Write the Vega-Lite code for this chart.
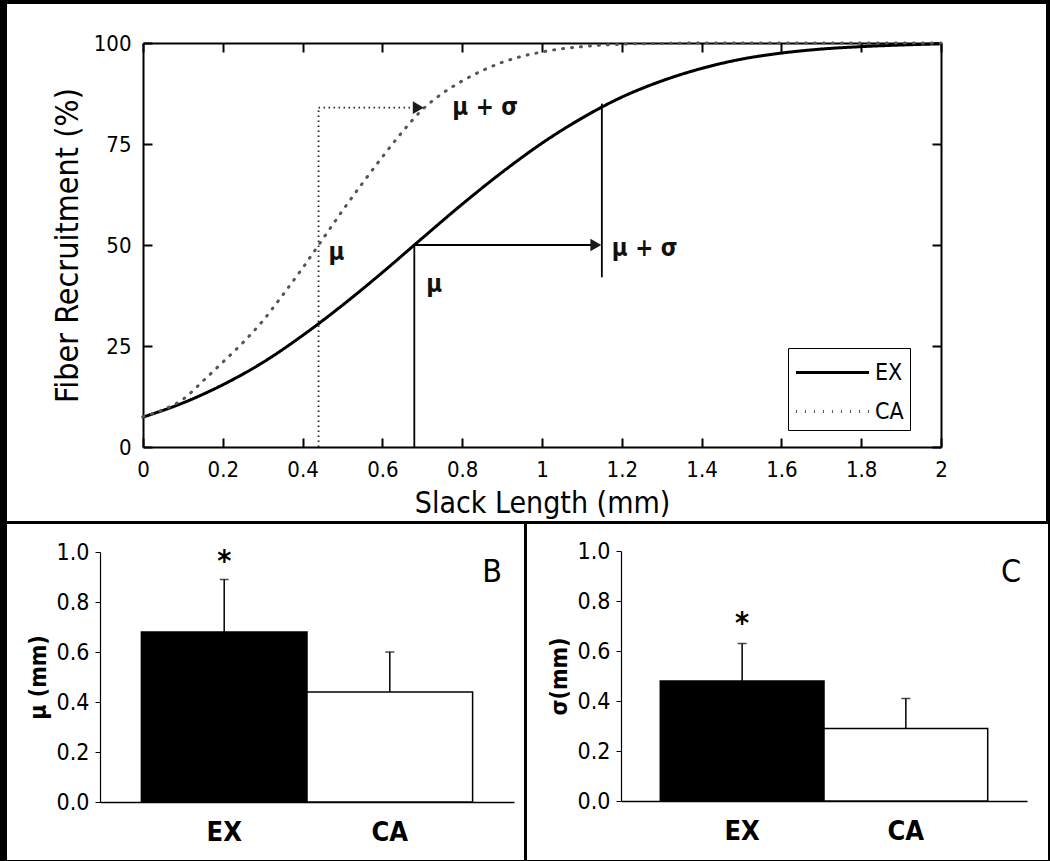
{
  "$schema": "https://vega.github.io/schema/vega-lite/v6.json",
  "background": "black",
  "padding": {"left": 5, "top": 2, "right": 5, "bottom": 4},
  "spacing": 0,
  "config": {
    "font": "DejaVu Sans Condensed, DejaVu Sans, sans-serif",
    "view": {"fill": "white", "stroke": "black", "strokeWidth": 1},
    "axis": {"grid": false, "domainColor": "black", "tickColor": "black", "labelColor": "black", "titleColor": "black"}
  },
  "datasets": {
    "curves": [
      {"group": "EX", "slack": 0.0, "recruit": 7.4},
      {"group": "EX", "slack": 0.1, "recruit": 10.9},
      {"group": "EX", "slack": 0.2, "recruit": 15.4},
      {"group": "EX", "slack": 0.3, "recruit": 20.9},
      {"group": "EX", "slack": 0.4, "recruit": 27.6},
      {"group": "EX", "slack": 0.5, "recruit": 35.1},
      {"group": "EX", "slack": 0.6, "recruit": 43.2},
      {"group": "EX", "slack": 0.7, "recruit": 51.7},
      {"group": "EX", "slack": 0.8, "recruit": 60.1},
      {"group": "EX", "slack": 0.9, "recruit": 68.0},
      {"group": "EX", "slack": 1.0, "recruit": 75.2},
      {"group": "EX", "slack": 1.1, "recruit": 81.4},
      {"group": "EX", "slack": 1.2, "recruit": 86.6},
      {"group": "EX", "slack": 1.3, "recruit": 90.6},
      {"group": "EX", "slack": 1.4, "recruit": 93.7},
      {"group": "EX", "slack": 1.5, "recruit": 96.0},
      {"group": "EX", "slack": 1.6, "recruit": 97.5},
      {"group": "EX", "slack": 1.7, "recruit": 98.5},
      {"group": "EX", "slack": 1.8, "recruit": 99.1},
      {"group": "EX", "slack": 1.9, "recruit": 99.5},
      {"group": "EX", "slack": 2.0, "recruit": 99.8},
      {"group": "CA", "slack": 0.0, "recruit": 7.5},
      {"group": "CA", "slack": 0.05, "recruit": 9.2},
      {"group": "CA", "slack": 0.1, "recruit": 11.8},
      {"group": "CA", "slack": 0.15, "recruit": 16.3},
      {"group": "CA", "slack": 0.2, "recruit": 21.0},
      {"group": "CA", "slack": 0.25, "recruit": 25.8},
      {"group": "CA", "slack": 0.3, "recruit": 31.2},
      {"group": "CA", "slack": 0.35, "recruit": 37.6},
      {"group": "CA", "slack": 0.4, "recruit": 44.3},
      {"group": "CA", "slack": 0.45, "recruit": 51.4},
      {"group": "CA", "slack": 0.5, "recruit": 58.5},
      {"group": "CA", "slack": 0.55, "recruit": 65.3},
      {"group": "CA", "slack": 0.6, "recruit": 71.8},
      {"group": "CA", "slack": 0.65, "recruit": 78.0},
      {"group": "CA", "slack": 0.7, "recruit": 83.5},
      {"group": "CA", "slack": 0.75, "recruit": 87.5},
      {"group": "CA", "slack": 0.8, "recruit": 90.6},
      {"group": "CA", "slack": 0.9, "recruit": 95.2},
      {"group": "CA", "slack": 1.0, "recruit": 97.8},
      {"group": "CA", "slack": 1.1, "recruit": 99.1},
      {"group": "CA", "slack": 1.2, "recruit": 99.7},
      {"group": "CA", "slack": 1.3, "recruit": 99.9},
      {"group": "CA", "slack": 1.4, "recruit": 100},
      {"group": "CA", "slack": 1.6, "recruit": 100},
      {"group": "CA", "slack": 1.8, "recruit": 100},
      {"group": "CA", "slack": 2.0, "recruit": 100}
    ],
    "guides": [
      {"kind": "CA", "x": 0.44, "y": 0, "x2": 0.44, "y2": 84},
      {"kind": "CA", "x": 0.44, "y": 84, "x2": 0.69, "y2": 84},
      {"kind": "EX", "x": 0.68, "y": 0, "x2": 0.68, "y2": 50},
      {"kind": "EX", "x": 0.68, "y": 50, "x2": 1.13, "y2": 50},
      {"kind": "EX", "x": 1.15, "y": 42, "x2": 1.15, "y2": 85}
    ],
    "arrows": [
      {"kind": "EX", "x": 1.15, "y": 50},
      {"kind": "CA", "x": 0.705, "y": 84}
    ],
    "labels": [
      {"label": "μ", "x": 0.465, "y": 48},
      {"label": "μ + σ", "x": 0.775, "y": 84},
      {"label": "μ", "x": 0.71, "y": 40},
      {"label": "μ + σ", "x": 1.175, "y": 49}
    ],
    "mu": [
      {"group": "EX", "mean": 0.68, "upper": 0.89, "sig": "*"},
      {"group": "CA", "mean": 0.44, "upper": 0.60, "sig": ""}
    ],
    "sigma": [
      {"group": "EX", "mean": 0.48, "upper": 0.63, "sig": "*"},
      {"group": "CA", "mean": 0.29, "upper": 0.41, "sig": ""}
    ]
  },
  "vconcat": [
    {
      "width": 1040,
      "height": 518,
      "resolve": {"axis": {"x": "independent", "y": "independent"}},
      "layer": [
        {
          "data": {"name": "curves"},
          "mark": {"type": "line", "interpolate": "monotone", "strokeWidth": 3, "strokeCap": "round"},
          "encoding": {
            "x": {"field": "slack", "type": "quantitative",
              "scale": {"domain": [0, 2], "range": [137, 935], "nice": false, "zero": false},
              "axis": {"orient": "bottom", "offset": -74, "values": [0, 0.2, 0.4, 0.6, 0.8, 1, 1.2, 1.4, 1.6, 1.8, 2], "format": "~g",
                "tickSize": -9, "tickWidth": 2, "domainWidth": 2, "labelPadding": 21, "labelFontSize": 22, "labelFlush": false,
                "title": "Slack Length (mm)", "titleFontSize": 30, "titleFontWeight": "normal", "titlePadding": 8}},
            "y": {"field": "recruit", "type": "quantitative",
              "scale": {"domain": [0, 100], "range": [444, 40], "nice": false, "zero": false},
              "axis": {"orient": "left", "offset": -137, "values": [0, 25, 50, 75, 100],
                "tickSize": -9, "tickWidth": 2, "domainWidth": 2, "labelPadding": 21, "labelFontSize": 22,
                "title": "Fiber Recruitment (%)", "titleFontSize": 32, "titleFontWeight": "normal", "titlePadding": 9}},
            "color": {"field": "group", "type": "nominal",
              "scale": {"domain": ["EX", "CA"], "range": ["black", "#555555"]},
              "legend": {"title": null, "orient": "none", "legendX": 782, "legendY": 345, "strokeColor": "black", "fillColor": "white", "padding": 6,
                "symbolType": "M-2.15,0H2.15", "symbolSize": 1156, "symbolStrokeWidth": 3, "symbolOffset": 20, "labelOffset": 24, "rowPadding": 8,
                "labelFontSize": 23, "labelLimit": 300, "labelFont": "Liberation Sans Narrow, DejaVu Sans Condensed, sans-serif"}},
            "strokeDash": {"field": "group", "type": "nominal",
              "scale": {"domain": ["EX", "CA"], "range": [[1, 0], [1, 8]]},
              "legend": {"title": null, "orient": "none", "legendX": 782, "legendY": 345, "strokeColor": "black", "fillColor": "white", "padding": 6,
                "symbolType": "M-2.15,0H2.15", "symbolSize": 1156, "symbolStrokeWidth": 3, "symbolOffset": 20, "labelOffset": 24, "rowPadding": 8,
                "labelFontSize": 23, "labelLimit": 300, "labelFont": "Liberation Sans Narrow, DejaVu Sans Condensed, sans-serif"}}
          }
        },
        {
          "data": {"name": "guides"},
          "transform": [{"filter": "datum.kind == 'CA'"}],
          "mark": {"type": "rule", "strokeDash": [1.5, 3.5], "strokeWidth": 1.8, "color": "#222222"},
          "encoding": {
            "x": {"field": "x", "type": "quantitative",
              "axis": {"orient": "top", "offset": -40, "values": [0, 0.2, 0.4, 0.6, 0.8, 1, 1.2, 1.4, 1.6, 1.8, 2], "labels": false,
                "tickSize": -9, "tickWidth": 2, "domainWidth": 2, "title": null}},
            "x2": {"field": "x2"},
            "y": {"field": "y", "type": "quantitative",
              "axis": {"orient": "right", "offset": -105, "values": [0, 25, 50, 75, 100], "labels": false,
                "tickSize": -9, "tickWidth": 2, "domainWidth": 2, "title": null}},
            "y2": {"field": "y2"}
          }
        },
        {
          "data": {"name": "guides"},
          "transform": [{"filter": "datum.kind == 'EX'"}],
          "mark": {"type": "rule", "strokeWidth": 1.8, "color": "black"},
          "encoding": {
            "x": {"field": "x", "type": "quantitative", "axis": null},
            "x2": {"field": "x2"},
            "y": {"field": "y", "type": "quantitative", "axis": null},
            "y2": {"field": "y2"}
          }
        },
        {
          "data": {"name": "arrows"},
          "mark": {"type": "point", "shape": "triangle-right", "filled": true, "size": 160, "opacity": 1, "xOffset": -6, "color": "#1a1a1a"},
          "encoding": {
            "x": {"field": "x", "type": "quantitative", "axis": null},
            "y": {"field": "y", "type": "quantitative", "axis": null}
          }
        },
        {
          "data": {"name": "labels"},
          "mark": {"type": "text", "align": "left", "baseline": "middle", "fontSize": 24, "fontWeight": "bold", "color": "#111111"},
          "encoding": {
            "x": {"field": "x", "type": "quantitative", "axis": null},
            "y": {"field": "y", "type": "quantitative", "axis": null},
            "text": {"field": "label"}
          }
        }
      ]
    },
    {
      "spacing": 0,
      "resolve": {"scale": {"x": "independent", "y": "independent"}},
      "hconcat": [
        {
          "width": 518,
          "height": 337,
          "data": {"name": "mu"},
          "title": {"text": "B", "anchor": "end", "orient": "top", "offset": -66, "dx": -22, "fontSize": 32, "fontWeight": "normal", "color": "black", "baseline": "top"},
          "layer": [
            {
              "mark": {"type": "bar", "stroke": "black", "strokeWidth": 1.5},
              "encoding": {
                "x": {"field": "group", "type": "nominal", "sort": ["EX", "CA"],
                  "scale": {"range": [94, 508], "paddingInner": 0, "paddingOuter": 0.25},
                  "axis": {"orient": "bottom", "offset": -58, "ticks": false, "labelPadding": 17, "labelFontSize": 27, "labelFontWeight": "bold", "labelAngle": 0, "title": null, "domainWidth": 1.5}},
                "y": {"field": "mean", "type": "quantitative",
                  "scale": {"domain": [0, 1], "range": [279, 29], "nice": false},
                  "axis": {"orient": "left", "offset": -94, "values": [0, 0.2, 0.4, 0.6, 0.8, 1], "format": ".1f", "tickSize": 5, "labelPadding": 6, "labelFontSize": 23, "domainWidth": 1.2,
                    "title": "μ (mm)", "titleFontSize": 23, "titleFontWeight": "bold", "titlePadding": 6}},
                "fill": {"field": "group", "type": "nominal", "scale": {"domain": ["EX", "CA"], "range": ["black", "white"]}, "legend": null}
              }
            },
            {
              "mark": {"type": "rule", "strokeWidth": 1.5, "color": "black"},
              "encoding": {
                "x": {"field": "group", "type": "nominal", "sort": ["EX", "CA"]},
                "y": {"field": "mean", "type": "quantitative"},
                "y2": {"field": "upper"}
              }
            },
            {
              "mark": {"type": "tick", "thickness": 1.5, "size": 9, "color": "black", "orient": "horizontal"},
              "encoding": {
                "x": {"field": "group", "type": "nominal", "sort": ["EX", "CA"]},
                "y": {"field": "upper", "type": "quantitative"}
              }
            },
            {
              "mark": {"type": "text", "fontSize": 30, "fontWeight": "bold", "baseline": "alphabetic", "dy": -9, "color": "black"},
              "encoding": {
                "x": {"field": "group", "type": "nominal", "sort": ["EX", "CA"]},
                "y": {"field": "upper", "type": "quantitative"},
                "text": {"field": "sig"}
              }
            }
          ]
        },
        {
          "width": 522,
          "height": 337,
          "data": {"name": "sigma"},
          "title": {"text": "C", "anchor": "end", "orient": "top", "offset": -66, "dx": -27, "fontSize": 32, "fontWeight": "normal", "color": "black", "baseline": "top"},
          "layer": [
            {
              "mark": {"type": "bar", "stroke": "black", "strokeWidth": 1.5},
              "encoding": {
                "x": {"field": "group", "type": "nominal", "sort": ["EX", "CA"],
                  "scale": {"range": [95, 501], "paddingInner": 0, "paddingOuter": 0.24},
                  "axis": {"orient": "bottom", "offset": -59, "ticks": false, "labelPadding": 17, "labelFontSize": 27, "labelFontWeight": "bold", "labelAngle": 0, "title": null, "domainWidth": 1.5}},
                "y": {"field": "mean", "type": "quantitative",
                  "scale": {"domain": [0, 1], "range": [278, 28], "nice": false},
                  "axis": {"orient": "left", "offset": -95, "values": [0, 0.2, 0.4, 0.6, 0.8, 1], "format": ".1f", "tickSize": 5, "labelPadding": 6, "labelFontSize": 23, "domainWidth": 1.2,
                    "title": "σ(mm)", "titleFontSize": 23, "titleFontWeight": "bold", "titlePadding": 6}},
                "fill": {"field": "group", "type": "nominal", "scale": {"domain": ["EX", "CA"], "range": ["black", "white"]}, "legend": null}
              }
            },
            {
              "mark": {"type": "rule", "strokeWidth": 1.5, "color": "black"},
              "encoding": {
                "x": {"field": "group", "type": "nominal", "sort": ["EX", "CA"]},
                "y": {"field": "mean", "type": "quantitative"},
                "y2": {"field": "upper"}
              }
            },
            {
              "mark": {"type": "tick", "thickness": 1.5, "size": 9, "color": "black", "orient": "horizontal"},
              "encoding": {
                "x": {"field": "group", "type": "nominal", "sort": ["EX", "CA"]},
                "y": {"field": "upper", "type": "quantitative"}
              }
            },
            {
              "mark": {"type": "text", "fontSize": 30, "fontWeight": "bold", "baseline": "alphabetic", "dy": -11, "color": "black"},
              "encoding": {
                "x": {"field": "group", "type": "nominal", "sort": ["EX", "CA"]},
                "y": {"field": "upper", "type": "quantitative"},
                "text": {"field": "sig"}
              }
            }
          ]
        }
      ]
    }
  ]
}
